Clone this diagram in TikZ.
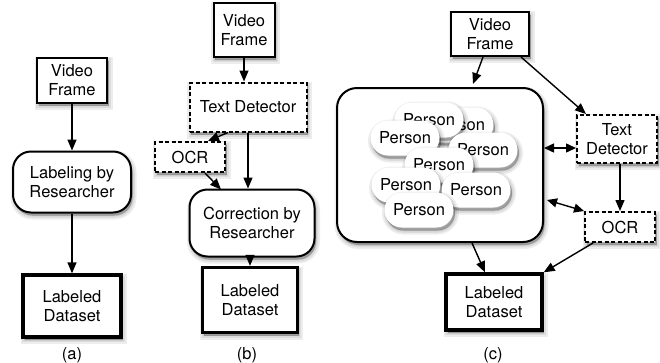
\documentclass[tikz,border=0pt]{standalone}
\usepackage{fontspec}
\setmainfont{TeX Gyre Heros}
\usetikzlibrary{arrows.meta,calc}

\begin{document}
\begin{tikzpicture}[x=1pt,y=-1pt,
  font=\fontsize{16.5}{19.5}\selectfont,
  every node/.style={align=center, inner sep=0pt},
  % soft drop shadow built from a few translucent layers
  shadowlayer/.style={preaction={draw=black, fill=black, solid, line width=#1,
      draw opacity=0.07, fill opacity=0.10,
      transform canvas={shift={(1.5pt,-3pt)}}}},
  softshadow/.style={shadowlayer=8pt, shadowlayer=4.5pt, shadowlayer=1.5pt},
  plainbox/.style={draw, line width=2pt, fill=white, softshadow},
  dashbox/.style={draw, line width=2pt, dash pattern=on 4pt off 2.5pt, fill=white, softshadow},
  roundbox/.style={draw, line width=2pt, fill=white, rounded corners=18pt, softshadow},
  databox/.style={draw, line width=3.3pt, fill=white, softshadow},
  pill/.style={fill=white, rounded corners=17.5pt, minimum width=69pt, minimum height=35pt, softshadow},
  flow/.style={line width=1.4pt, -{Triangle[length=11pt,width=9pt]}},
  twoway/.style={line width=1.4pt, {Triangle[length=10pt,width=9pt]}-{Triangle[length=10pt,width=9pt]}},
]
\useasboundingbox (0,0) rectangle (660,362);

% ---------- (a) manual labeling ----------
\node[plainbox, minimum width=70pt, minimum height=45pt] (avf) at (72,80) {Video\\Frame};
\node[roundbox, minimum width=118pt, minimum height=61pt] (alab) at (72,182) {Labeling by\\Researcher};
\node[databox, minimum width=98pt, minimum height=62pt] (ads) at (72,306) {Labeled\\Dataset};
\node (acap) at (72,355) {(a)};
\draw[flow] (avf) -- (alab);
\draw[flow] (alab) -- (ads);

% ---------- (b) detector + OCR, corrected by hand ----------
\node[plainbox, minimum width=61pt, minimum height=54pt] (bvf) at (244,30) {Video\\Frame};
\node[dashbox, minimum width=117pt, minimum height=49pt] (btd) at (248,107) {Text Detector};
\node[dashbox, minimum width=70pt, minimum height=30pt] (bocr) at (190,157) {OCR};
\node[roundbox, minimum width=125pt, minimum height=67pt] (bcor) at (252,223) {Correction by\\Researcher};
\node[databox, minimum width=95pt, minimum height=65pt] (bds) at (250,300) {Labeled\\Dataset};
\node (bcap) at (247,355) {(b)};
\draw[flow] (bvf.south) -- (bvf.south |- btd.north);
\draw[flow] ([xshift=-20pt]btd.south) -- ([xshift=18pt]bocr.north);
\draw[flow] (btd.south) -- (btd.south |- bcor.north);
\draw[flow] ([xshift=15pt]bocr.south) -- ([xshift=-31pt,yshift=-1pt]bcor.north);
\draw[flow] (bcor.south -| bds.north) -- (bds.north);

% ---------- (c) crowd labeling ----------
\node[plainbox, minimum width=78pt, minimum height=44pt] (cvf) at (490,34) {Video\\Frame};
\node[roundbox, rounded corners=20pt, minimum width=206pt, minimum height=154pt] (cbox) at (440,165) {};
\node[dashbox, minimum width=80pt, minimum height=48pt] (ctd) at (617,139) {Text\\Detector};
\node[dashbox, minimum width=70pt, minimum height=30pt] (cocr) at (620,227) {OCR};
\node[databox, minimum width=96pt, minimum height=56pt] (cds) at (494,302) {Labeled\\Dataset};
\node (ccap) at (493,355) {(c)};

% workers inside the crowd box
\node[pill] (p1) at (459,125) {Person};
\node[pill] (p2) at (429,120) {Person};
\node[pill] (p3) at (405,138) {Person};
\node[pill] (p4) at (483,150) {Person};
\node[pill] (p5) at (439,165) {Person};
\node[pill] (p6) at (406,185) {Person};
\node[pill] (p7) at (476,190) {Person};
\node[pill] (p8) at (419,210) {Person};

\draw[flow] ([xshift=-7pt]cvf.south) -- ([xshift=33pt,yshift=3pt]cbox.north);
\draw[flow] ([xshift=-9pt]cvf.south east) -- ([xshift=10pt]ctd.north west);
\draw[twoway] ([yshift=-9pt]ctd.west) -- ([yshift=-9pt]ctd.west -| cbox.east);
\draw[flow] (cocr.north |- ctd.south) -- (cocr.north);
\draw[twoway] ([xshift=3pt,yshift=-35pt]cbox.east) -- (cocr.north west);
\draw[flow] ([xshift=32pt]cbox.south) -- ([xshift=-9pt]cds.north);
\draw[flow] ([xshift=-27pt]cocr.south) -- (cds.north east);
\end{tikzpicture}
\end{document}
